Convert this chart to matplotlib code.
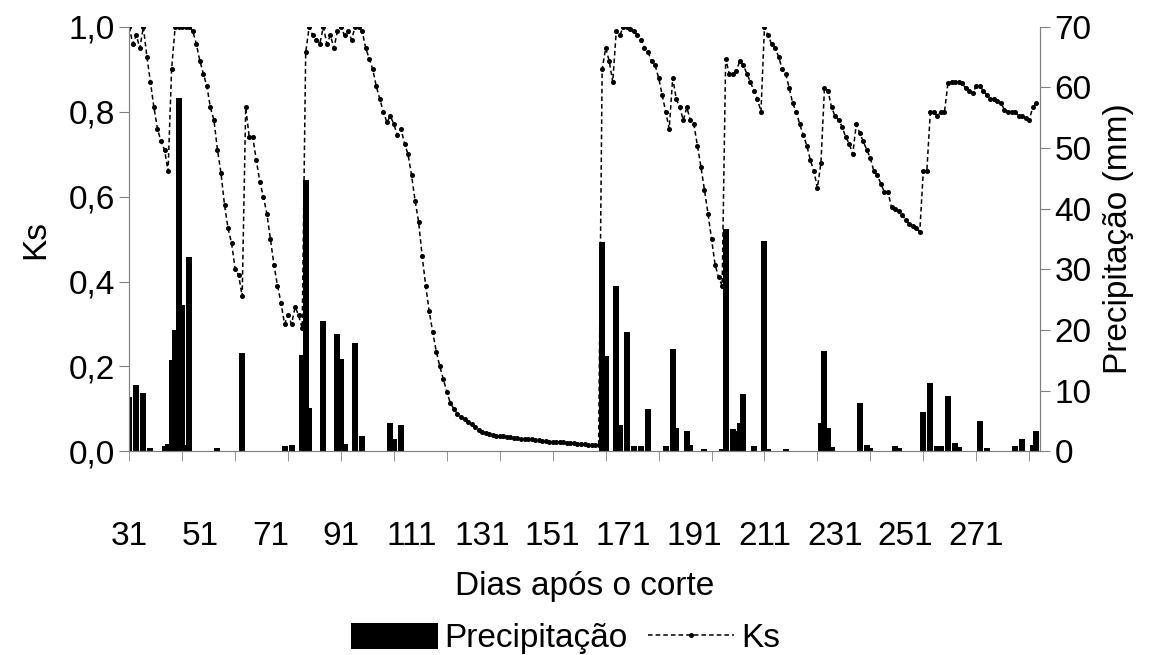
import matplotlib
matplotlib.use('Agg')
import matplotlib.pyplot as plt
import numpy as np
from matplotlib.ticker import FuncFormatter, FixedLocator, NullFormatter

plt.rcParams['font.family'] = ['Liberation Sans', 'DejaVu Sans']

# Ks diario, a partir do dia 31
ks = [1.0, 0.96, 0.98, 0.95, 1.0, 0.93, 0.87, 0.81, 0.76, 0.73, 0.71, 0.66, 0.9, 1.0,
      1.0, 1.0, 1.0, 1.0,
      0.99, 0.96, 0.92, 0.89, 0.86, 0.81, 0.78, 0.71, 0.655, 0.58, 0.525, 0.49, 0.43, 0.415, 0.365,
      0.81, 0.74, 0.74, 0.686, 0.635, 0.60, 0.56, 0.50, 0.44, 0.39, 0.35, 0.30, 0.32, 0.30, 0.34,
      0.32, 0.29,
      0.94, 1.0, 0.98, 0.97, 0.96, 1.0, 0.96, 0.98, 0.95, 0.99, 1.0, 0.98, 0.99, 0.97, 1.0, 1.0,
      0.99, 0.95, 0.925, 0.90, 0.86, 0.83, 0.80, 0.775, 0.79, 0.77, 0.745, 0.76, 0.725, 0.70,
      0.65, 0.59, 0.54, 0.46, 0.39, 0.33, 0.28, 0.235, 0.20, 0.17, 0.14, 0.113, 0.10, 0.088,
      0.08, 0.075, 0.07, 0.065, 0.058, 0.05, 0.045, 0.042,
      0.04, 0.039, 0.037, 0.036, 0.035, 0.034, 0.033, 0.032, 0.031, 0.03, 0.029, 0.028, 0.028,
      0.027, 0.026, 0.025, 0.024, 0.023, 0.023, 0.022, 0.021, 0.021, 0.02, 0.02, 0.019, 0.018,
      0.018, 0.017, 0.016, 0.016, 0.015,
      0.015,
      0.90, 0.95, 0.92, 0.87, 0.99, 0.98, 1.0, 1.0, 0.995, 0.99, 0.98, 0.97, 0.95, 0.94, 0.92,
      0.91, 0.88, 0.84, 0.80, 0.76, 0.88, 0.83, 0.81, 0.78, 0.81, 0.78, 0.77, 0.72, 0.67, 0.615,
      0.56, 0.50, 0.44, 0.41, 0.39,
      0.925, 0.89, 0.89, 0.895, 0.92, 0.91, 0.89, 0.87, 0.85, 0.83, 0.80,
      1.0, 0.98, 0.96, 0.95, 0.93, 0.90, 0.89, 0.856, 0.82, 0.80, 0.77, 0.745, 0.72, 0.686,
      0.66, 0.62, 0.68,
      0.856, 0.85, 0.81, 0.79, 0.78, 0.765, 0.74, 0.725, 0.70, 0.77, 0.75, 0.73, 0.71, 0.69,
      0.66, 0.65, 0.63, 0.61, 0.61, 0.575, 0.57, 0.565, 0.557, 0.545, 0.535, 0.53, 0.525, 0.517,
      0.66, 0.66, 0.80, 0.80, 0.79, 0.80, 0.80, 0.868, 0.87, 0.87, 0.87, 0.868, 0.855, 0.85,
      0.845, 0.86, 0.86, 0.85, 0.84, 0.83, 0.83, 0.825, 0.82, 0.805, 0.80, 0.80, 0.80, 0.79,
      0.79, 0.785, 0.78, 0.81, 0.82]
ks_days = np.arange(31, 31 + len(ks))

# Precipitacao (mm)
chuva_dias = [31, 33, 35, 37, 41, 42, 43, 44, 45, 46, 47, 48, 56, 63, 75, 77, 80, 81, 82,
              86, 90, 91, 92, 95, 97, 105, 106, 108,
              165, 166, 169, 170, 172, 174, 176, 178, 183, 185, 186, 189, 190, 194, 199,
              200, 202, 203, 204, 205, 208, 211, 212, 217, 227, 228, 229, 230, 238, 240,
              241, 248, 249, 256, 258, 260, 261, 263, 265, 266, 272, 274, 282, 284, 287, 288]
chuva_mm = [8.9, 10.9, 9.6, 0.5, 0.8, 1.2, 15.0, 20.0, 58.3, 24.1, 1.0, 32.0, 0.5, 16.2,
            0.8, 1.1, 15.8, 44.8, 7.2, 21.5, 19.4, 15.3, 1.2, 17.9, 2.6, 4.6, 2.1, 4.3,
            34.6, 15.7, 27.2, 4.3, 19.7, 0.9, 0.9, 6.9, 0.9, 16.9, 3.9, 3.3, 1.0, 0.4, 0.4,
            36.6, 3.6, 3.4, 4.6, 9.4, 0.8, 34.7, 0.4, 0.4, 4.6, 16.6, 3.9, 0.7, 8.0, 1.1,
            0.5, 0.9, 0.5, 6.5, 11.2, 0.8, 0.8, 9.2, 1.4, 0.7, 5.0, 0.5, 0.9, 2.1, 1.0, 3.4]

fs = 24
fig = plt.figure(figsize=(11.54, 6.55), dpi=100)
ax = fig.add_axes([0.112, 0.311, 0.789, 0.648])
ax2 = ax.twinx()

bars = ax2.bar(chuva_dias, chuva_mm, width=1.7, color='black', label='Precipitação', zorder=2)
ax2.set_ylim(0, 70)
ax2.set_yticks(range(0, 71, 10))
ax2.set_ylabel('Precipitação (mm)', fontsize=fs, labelpad=8)

line, = ax.plot(ks_days, ks, color='black', lw=1.1, ls=(0, (3, 2)), marker='o', ms=2.6,
                label='Ks')
ax.set_zorder(ax2.get_zorder() + 1)
ax.patch.set_visible(False)
ax.set_ylim(0, 1.0)
ax.set_yticks(np.arange(0, 1.01, 0.2))
ax.yaxis.set_major_formatter(FuncFormatter(lambda v, p: f'{v:.1f}'.replace('.', ',')))
ax.set_ylabel('Ks', fontsize=fs, labelpad=12)
ax.set_xlim(31, 289)

# rotulos a cada 20 dias, marcas a cada 15 dias
ax.xaxis.remove_overlapping_locs = False
ax.xaxis.set_major_locator(FixedLocator(np.arange(31, 272, 20)))
ax.xaxis.set_major_formatter(FuncFormatter(lambda v, p: f'{v:.0f}'))
ax.xaxis.set_minor_locator(FixedLocator(np.arange(31, 290, 15)))
ax.xaxis.set_minor_formatter(NullFormatter())
ax.tick_params(axis='x', which='minor', length=7, direction='out', color='#808080')
ax.tick_params(axis='x', which='major', length=0, pad=50, labelsize=fs)
ax.set_xlabel('Dias após o corte', fontsize=fs, labelpad=14)

ax.tick_params(axis='y', length=7, color='#808080', labelsize=fs)
ax2.tick_params(axis='y', length=7, color='#808080', labelsize=fs)
for a in (ax, ax2):
    a.spines['top'].set_visible(False)
    for s in ('left', 'right', 'bottom'):
        a.spines[s].set_color('#808080')

fig.legend([bars, line], ['Precipitação', 'Ks'], loc='lower center', ncol=2, frameon=False,
           fontsize=fs, bbox_to_anchor=(0.49, -0.045), handlelength=2.6, handleheight=0.8,
           columnspacing=0.6, handletextpad=0.2)

fig.savefig('out.png')
